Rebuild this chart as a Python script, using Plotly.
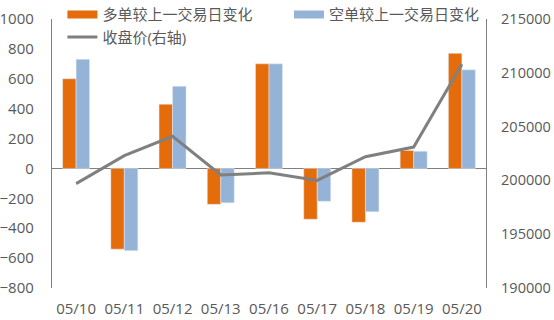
import plotly.graph_objects as go

dates = ["05/10", "05/11", "05/12", "05/13", "05/16", "05/17", "05/18", "05/19", "05/20"]
long_change = [600, -540, 430, -240, 700, -340, -360, 120, 770]
short_change = [730, -550, 550, -230, 700, -220, -290, 115, 660]
close_price = [199700, 202300, 204100, 200500, 200700, 200000, 202200, 203100, 210800]

left_ticks = list(range(-800, 1001, 200))
right_ticks = list(range(190000, 215001, 5000))
right_labels = [str(v) for v in right_ticks]

ORANGE = "#E46C0A"
BLUE = "#95B3D7"
GREY = "#808080"
TXT = "#595959"
FONT = "Open Sans, Noto Sans CJK SC"

fig = go.Figure()
fig.add_trace(go.Bar(x=dates, y=long_change, name="多单较上一交易日变化",
                     marker_color=ORANGE, showlegend=False))
fig.add_trace(go.Bar(x=dates, y=short_change, name="空单较上一交易日变化",
                     marker_color=BLUE, showlegend=False))
fig.add_trace(go.Scatter(x=dates, y=close_price, name="收盘价(右轴)", yaxis="y2",
                         mode="lines", line=dict(color=GREY, width=3), showlegend=False))

# legend entries
fig.add_trace(go.Scatter(x=[None], y=[None], mode="lines", name="多单较上一交易日变化",
                         line=dict(color=ORANGE, width=8), legend="legend"))
fig.add_trace(go.Scatter(x=[None], y=[None], mode="lines", name="收盘价(右轴)",
                         line=dict(color=GREY, width=3), legend="legend"))
fig.add_trace(go.Scatter(x=[None], y=[None], mode="lines", name="空单较上一交易日变化",
                         line=dict(color=BLUE, width=8), legend="legend2"))

fig.update_layout(
    width=554, height=320,
    margin=dict(l=52, r=68, t=19, b=32, autoexpand=False),
    paper_bgcolor="white", plot_bgcolor="white",
    font=dict(family=FONT, size=15, color=TXT),
    barmode="group", bargap=0.44, bargroupgap=0,
    xaxis=dict(type="category", showline=False, ticks="", showgrid=False, automargin=False,
               tickfont=dict(size=15, color=TXT), ticklabelstandoff=10),
    yaxis=dict(range=[-800, 1000], tickvals=left_ticks, showgrid=False, automargin=False,
               showline=True, linecolor=GREY, linewidth=1.3,
               zeroline=True, zerolinecolor=GREY, zerolinewidth=1.3,
               ticks="", ticklabelstandoff=14),
    yaxis2=dict(range=[190000, 215000], tickvals=right_ticks, ticktext=right_labels,
                overlaying="y", side="right", automargin=False,
                tickfont=dict(size=14.5, color=TXT),
                showgrid=False, showline=True, linecolor=GREY, linewidth=1.3,
                zeroline=False, ticks="", ticklabelstandoff=11),
    legend=dict(x=0.024, y=1.077, xanchor="left", yanchor="top", orientation="v",
                bgcolor="rgba(0,0,0,0)", tracegroupgap=0, itemwidth=30,
                font=dict(size=15, color=TXT)),
    legend2=dict(x=0.546, y=1.077, xanchor="left", yanchor="top", orientation="v",
                 bgcolor="rgba(0,0,0,0)", itemwidth=30,
                 font=dict(size=15, color=TXT)),
)

fig.write_html("out.html")
